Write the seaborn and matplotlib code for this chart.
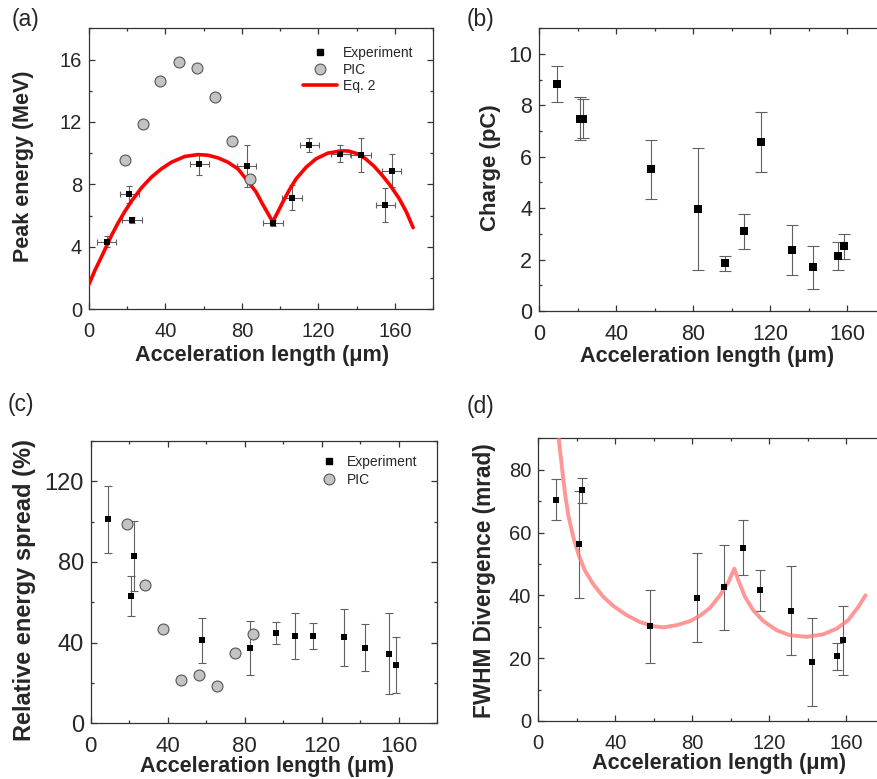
import numpy as np
import pandas as pd
import matplotlib
matplotlib.use("Agg")
import matplotlib.pyplot as plt
import seaborn as sns
from matplotlib.ticker import MultipleLocator
from matplotlib.lines import Line2D

# ---------------- data ----------------
exp_len = [9.2, 21.1, 22.5, 57.8, 82.5, 96.3, 106.2, 115.2, 131.4, 142.3, 155.1, 158.3]
len_err = [5, 5, 5, 5, 5, 5, 5, 5, 5, 5, 5, 5]

peak_energy = [4.34, 7.36, 5.74, 9.28, 9.19, 5.51, 7.15, 10.55, 9.98, 9.89, 6.68, 8.89]
peak_energy_err = [0.35, 0.56, 0.2, 0.7, 1.33, 0.2, 0.8, 0.45, 0.53, 1.1, 1.1, 1.05]

charge = [8.83, 7.49, 7.49, 5.51, 3.96, 1.85, 3.10, 6.57, 2.37, 1.70, 2.15, 2.51]
charge_err = [0.71, 0.83, 0.77, 1.15, 2.38, 0.28, 0.67, 1.16, 0.98, 0.84, 0.54, 0.49]

spread = [101.2, 63.1, 83.0, 41.1, 37.3, 44.7, 43.2, 43.4, 42.6, 37.5, 34.5, 28.9]
spread_err = [16.7, 9.9, 17.2, 11.2, 13.5, 5.5, 11.5, 6.5, 14.2, 11.8, 20.0, 14.0]

divergence = [70.5, 56.2, 73.4, 30.2, 39.3, 42.6, 55.2, 41.6, 35.1, 18.8, 20.6, 25.7]
divergence_err = [6.6, 17.0, 3.9, 11.6, 14.1, 13.5, 8.8, 6.5, 14.1, 14.0, 4.3, 11.0]

pic_len = [18.6, 28.0, 37.4, 47.0, 56.3, 65.7, 75.0, 84.3]
pic_energy = [9.57, 11.87, 14.64, 15.85, 15.47, 13.57, 10.81, 8.36]
pic_spread = [98.7, 68.8, 46.9, 21.3, 23.9, 18.3, 35.0, 44.2]

# Eq. 2 curve
eq2_x = [0, 3.1, 5.7, 8.4, 11.8, 15.3, 18.8, 22.3, 27.5, 32.7, 37.9, 43.1, 50.1,
         57.0, 62.2, 67.5, 72.7, 77.9, 83.5, 87.5, 90.9, 93.5, 96.1, 98.8, 101.4,
         104.9, 108.4, 113.6, 118.8, 124.9, 130.9, 133.6, 136.1, 140.5, 144.7,
         149.1, 153.5, 157.9, 162.3, 166.1, 169.6]
eq2_y = [1.6, 2.5, 3.15, 3.85, 4.74, 5.55, 6.28, 6.94, 7.79, 8.47, 9.0, 9.42, 9.79,
         9.91, 9.87, 9.70, 9.42, 9.0, 8.15, 7.5, 6.72, 6.17, 5.6, 6.23, 6.87,
         7.66, 8.36, 9.1, 9.64, 10.0, 10.13, 10.15, 10.13, 9.96, 9.64,
         9.17, 8.57, 7.89, 7.09, 6.23, 5.23]

# divergence model curve
div_fit_x = [10.2, 12.1, 13.9, 15.6, 18.2, 20.8, 24.2, 28.6, 33.8, 39.0, 45.9, 52.8,
             59.7, 64.9, 71.9, 78.8, 84.0, 89.2, 94.4, 98.7, 101.8, 103.9, 107.4,
             111.7, 116.9, 123.8, 130.7, 139.4, 148.0, 155.0, 161.0, 166.2, 170.0]
div_fit_y = [92.0, 81.8, 72.3, 65.4, 58.5, 53.2, 47.9, 43.5, 39.5, 36.6, 33.7, 31.5,
             30.2, 29.8, 30.5, 31.8, 33.5, 36.0, 40.0, 44.2, 48.5, 44.8, 39.5,
             35.2, 31.8, 28.9, 27.3, 26.8, 27.6, 29.4, 32.1, 36.3, 40.0]

# ---------------- style ----------------
sns.set_style("ticks")
plt.rcParams['font.family'] = ['Liberation Sans', 'DejaVu Sans']
plt.rcParams['axes.edgecolor'] = '#333333'
plt.rcParams['axes.linewidth'] = 0.9
plt.rcParams['lines.solid_joinstyle'] = 'round'

fig = plt.figure(figsize=(8.78, 7.79), dpi=100)
W, H = 878.0, 779.0

def add_axes(l, t, r, b):
    return fig.add_axes([l / W, 1 - b / H, (r - l) / W, (b - t) / H])

axA = add_axes(89.0, 28.3, 433.0, 309.3)
axB = add_axes(539.3, 28.3, 886.0, 311.0)
axC = add_axes(90.7, 441.0, 437.4, 723.3)
axD = add_axes(538.3, 438.3, 884.8, 721.0)

ERR_C = '#606060'
SQ_C = 'black'
PIC_FACE = '#c3c3c3'
PIC_EDGE = '#555555'
LAB_FS = 15.6

def style_axis(ax, ymax, ymaj, ymin, fs_x, fs_y):
    ax.set_xlim(0, 180)
    ax.set_ylim(0, ymax)
    ax.xaxis.set_major_locator(MultipleLocator(40))
    ax.xaxis.set_minor_locator(MultipleLocator(20))
    ax.yaxis.set_major_locator(MultipleLocator(ymaj))
    ax.yaxis.set_minor_locator(MultipleLocator(ymin))
    ax.tick_params(which='both', direction='in', top=True, right=True,
                   color='#333333', width=0.9)
    ax.tick_params(which='major', length=4.5)
    ax.tick_params(which='minor', length=2.5)
    ax.tick_params(axis='x', which='major', labelsize=fs_x, pad=9.5)
    ax.tick_params(axis='y', which='major', labelsize=fs_y, pad=5)
    for s in ax.spines.values():
        s.set_visible(True)
        s.set_color('#333333')

# ---------------- (a) ----------------
dfA = pd.DataFrame({'L': exp_len, 'E': peak_energy})
dfP = pd.DataFrame({'L': pic_len, 'E': pic_energy})
dfEq = pd.DataFrame({'L': eq2_x, 'E': eq2_y})
axA.errorbar(exp_len, peak_energy, yerr=peak_energy_err, xerr=len_err, fmt='none',
             ecolor=ERR_C, elinewidth=0.8, capsize=2.5, capthick=0.8, zorder=2)
sns.lineplot(data=dfEq, x='L', y='E', ax=axA, color='#ff0000', lw=2.6, sort=False,
             estimator=None, zorder=3)
sns.scatterplot(data=dfP, x='L', y='E', ax=axA, marker='o', s=62, color=PIC_FACE,
                edgecolor=PIC_EDGE, linewidth=0.8, zorder=4)
sns.scatterplot(data=dfA, x='L', y='E', ax=axA, marker='s', s=16, color=SQ_C,
                linewidth=0, zorder=5)
style_axis(axA, 18, 4, 2, 14.5, 14.5)
axA.set_xlabel('Acceleration length (μm)', fontsize=LAB_FS, fontweight='bold')
axA.set_ylabel('Peak energy (MeV)', fontsize=15.5, fontweight='bold')
axA.xaxis.set_label_coords(0.504, -0.128)
axA.yaxis.set_label_coords(-0.16, 0.508)
hA = [Line2D([], [], ls='none', marker='s', ms=4.2, color='black'),
      Line2D([], [], ls='none', marker='o', ms=7.8, mfc=PIC_FACE, mec=PIC_EDGE, mew=0.8),
      Line2D([], [], color='#ff0000', lw=2.6)]
axA.legend(hA, ['Experiment', 'PIC', 'Eq. 2'], loc='upper left',
           bbox_to_anchor=((303 - 89) / 344, (309.3 - 46) / 281), frameon=False,
           fontsize=10, handlelength=2.45, handletextpad=0.45, labelspacing=0.18,
           borderpad=0, borderaxespad=0)

# ---------------- (b) ----------------
dfB = pd.DataFrame({'L': exp_len, 'Q': charge})
axB.errorbar(exp_len, charge, yerr=charge_err, fmt='none', ecolor=ERR_C,
             elinewidth=0.8, capsize=4, capthick=0.8, zorder=2)
sns.scatterplot(data=dfB, x='L', y='Q', ax=axB, marker='s', s=28, color=SQ_C,
                linewidth=0, zorder=5)
style_axis(axB, 11, 2, 1, 15.5, 15.5)
axB.set_xlabel('Acceleration length (μm)', fontsize=LAB_FS, fontweight='bold')
axB.set_ylabel('Charge (pC)', fontsize=16, fontweight='bold')
axB.xaxis.set_label_coords(0.483, -0.125)
axB.yaxis.set_label_coords(-0.111, 0.508)

# ---------------- (c) ----------------
dfC = pd.DataFrame({'L': exp_len, 'S': spread})
dfPC = pd.DataFrame({'L': pic_len, 'S': pic_spread})
axC.errorbar(exp_len, spread, yerr=spread_err, fmt='none', ecolor=ERR_C,
             elinewidth=0.8, capsize=3, capthick=0.8, zorder=2)
sns.scatterplot(data=dfPC, x='L', y='S', ax=axC, marker='o', s=62, color=PIC_FACE,
                edgecolor=PIC_EDGE, linewidth=0.8, zorder=4)
sns.scatterplot(data=dfC, x='L', y='S', ax=axC, marker='s', s=20, color=SQ_C,
                linewidth=0, zorder=5)
style_axis(axC, 140, 40, 20, 16, 17)
axC.set_xlabel('Acceleration length (μm)', fontsize=LAB_FS, fontweight='bold')
axC.set_ylabel('Relative energy spread (%)', fontsize=17, fontweight='bold')
axC.xaxis.set_label_coords(0.51, -0.117)
axC.yaxis.set_label_coords(-0.159, 0.472)
hC = [Line2D([], [], ls='none', marker='s', ms=4.2, color='black'),
      Line2D([], [], ls='none', marker='o', ms=7.8, mfc=PIC_FACE, mec=PIC_EDGE, mew=0.8)]
axC.legend(hC, ['Experiment', 'PIC'], loc='upper left',
           bbox_to_anchor=((318 - 90.7) / 346.7, (723.3 - 455) / 282.3), frameon=False,
           fontsize=10, handlelength=1.6, handletextpad=0.45, labelspacing=0.3,
           borderpad=0, borderaxespad=0)

# ---------------- (d) ----------------
dfD = pd.DataFrame({'L': exp_len, 'D': divergence})
dfFit = pd.DataFrame({'L': div_fit_x, 'D': div_fit_y})
axD.errorbar(exp_len, divergence, yerr=divergence_err, fmt='none', ecolor=ERR_C,
             elinewidth=0.8, capsize=3.5, capthick=0.8, zorder=2)
sns.lineplot(data=dfFit, x='L', y='D', ax=axD, color='#ff7575', alpha=0.75, lw=2.8,
             sort=False, estimator=None, zorder=3)
sns.scatterplot(data=dfD, x='L', y='D', ax=axD, marker='s', s=20, color=SQ_C,
                linewidth=0, zorder=5)
style_axis(axD, 90, 20, 10, 14.5, 14.5)
axD.set_xlabel('Acceleration length (μm)', fontsize=LAB_FS, fontweight='bold')
axD.set_ylabel('FWHM Divergence (mrad)', fontsize=16.3, fontweight='bold')
axD.xaxis.set_label_coords(0.522, -0.113)
axD.yaxis.set_label_coords(-0.122, 0.497)

# ---------------- panel letters ----------------
for txt, x, y in [('(a)', 12, 8), ('(b)', 467, 8), ('(c)', 8, 393), ('(d)', 467, 395)]:
    fig.text(x / W, 1 - y / H, txt, fontsize=16.5, ha='left', va='top')

fig.savefig('out.png', dpi=100)
